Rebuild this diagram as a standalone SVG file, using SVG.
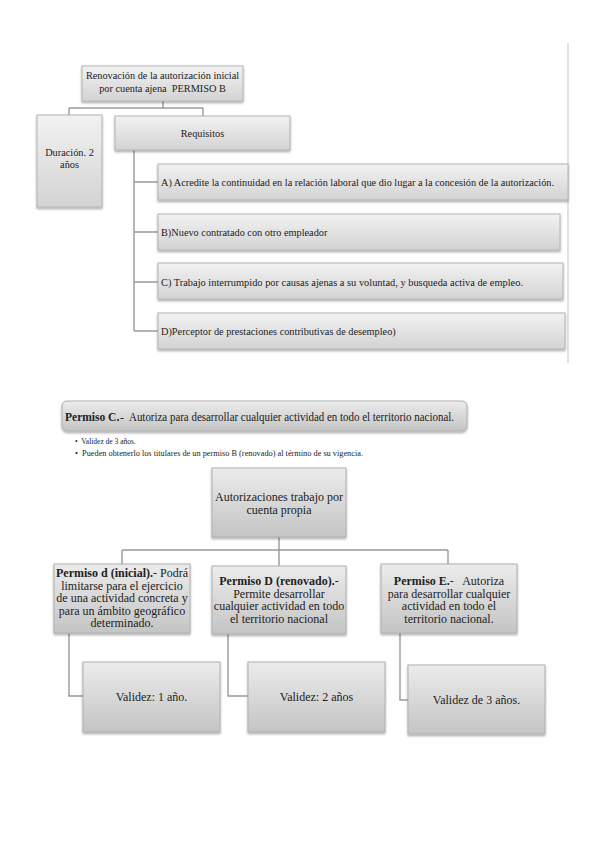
<svg xmlns="http://www.w3.org/2000/svg" width="599" height="848" viewBox="0 0 599 848">
<defs>
<linearGradient id="g1" x1="0" y1="0" x2="0" y2="1">
<stop offset="0" stop-color="#f2f2f2"/><stop offset="1" stop-color="#d3d3d3"/>
</linearGradient>
<linearGradient id="g2" x1="0" y1="0" x2="0" y2="1">
<stop offset="0" stop-color="#ececec"/><stop offset="1" stop-color="#c4c4c4"/>
</linearGradient>
<filter id="sh" x="-10%" y="-10%" width="125%" height="140%">
<feDropShadow dx="0" dy="1.5" stdDeviation="1" flood-color="#000" flood-opacity="0.35"/>
</filter>
</defs>
<style>
.b1{fill:url(#g1);stroke:#b4b4b4;stroke-width:1;filter:url(#sh)}
.b2{fill:url(#g2);stroke:#b0b0b0;stroke-width:1;filter:url(#sh)}
.ln{fill:none;stroke:#9a9a9a;stroke-width:1.4}
.t{font-family:"Liberation Serif","Times New Roman",serif;fill:#222}
.s1{font-size:10.3px}
.s2{font-size:12px}
.s3{font-size:12.5px}
.s4{font-size:7.5px}
.c{text-anchor:middle}
.bd{font-weight:bold}
</style>
<rect width="599" height="848" fill="#fff"/>

<g id="connectors">
<path class="ln" d="M163 101V108M69 108H203M69 108V115M203 108V116"/>
<path class="ln" d="M134 150V331M134 182H158M134 232H158M134 282H158M134 331H158"/>
<path class="ln" d="M279 537V550M122 550H448M122 550V564M279 550V566M448 550V564"/>
<path class="ln" d="M69 633V696H83M228 634V696H248M400 633V700H408"/>
<path d="M568 43V363" stroke="#cfcfcf" stroke-width="1.2"/>
</g>

<g id="permisoB">
<rect class="b1" x="82" y="66" width="161" height="35"/>
<text class="t s1 c" x="162.5" y="79">Renovación de la autorización inicial</text>
<text class="t s1 c" x="162.5" y="92" xml:space="preserve">por cuenta ajena  PERMISO B</text>
</g>
<g id="duracion">
<rect class="b1" x="37" y="115" width="65" height="92"/>
<text class="t s1 c" x="69.5" y="156">Duración. 2</text>
<text class="t s1 c" x="69.5" y="168">años</text>
</g>
<g id="requisitos">
<rect class="b1" x="115" y="116" width="175" height="34"/>
<text class="t s1 c" x="202.5" y="137">Requisitos</text>
</g>
<g id="reqA">
<rect class="b1" x="158" y="164" width="410" height="36"/>
<text class="t s1" x="161" y="185.5" textLength="393" lengthAdjust="spacingAndGlyphs">A) Acredite la continuidad en la relación laboral que dio lugar a la concesión de la autorización.</text>
</g>
<g id="reqB">
<rect class="b1" x="158" y="214" width="402" height="36"/>
<text class="t s1" x="161" y="235.5">B)Nuevo contratado con otro empleador</text>
</g>
<g id="reqC">
<rect class="b1" x="158" y="263" width="405" height="36"/>
<text class="t s1" x="161" y="285.5" textLength="362" lengthAdjust="spacingAndGlyphs">C) Trabajo interrumpido por causas ajenas a su voluntad, y busqueda activa de empleo.</text>
</g>
<g id="reqD">
<rect class="b1" x="158" y="313" width="407" height="36"/>
<text class="t s1" x="161" y="335">D)Perceptor de prestaciones contributivas de desempleo)</text>
</g>

<g id="permisoC">
<rect class="b2" x="62" y="401" width="405" height="30" rx="5"/>
<text class="t bd" x="65" y="420.5" font-size="11.5">Permiso C.</text>
<text class="t" x="120" y="420.5" font-size="11.5">-</text>
<text class="t s3" x="129" y="420.5" textLength="325" lengthAdjust="spacingAndGlyphs">Autoriza para desarrollar cualquier actividad en todo el territorio nacional.</text>
<text class="t s4" x="75" y="444">•&#160; Validez de 3 años.</text>
<text class="t s4" x="75" y="456" textLength="288" lengthAdjust="spacingAndGlyphs">•&#160; Pueden obtenerlo los titulares de un permiso B (renovado) al término de su vigencia.</text>
</g>

<g id="propia">
<rect class="b2" x="212" y="468" width="134" height="69"/>
<text class="t s2 c" x="279" y="501">Autorizaciones trabajo por</text>
<text class="t s2 c" x="279" y="514">cuenta propia</text>
</g>
<g id="permisod">
<rect class="b2" x="54" y="564" width="136" height="69"/>
<text class="t s2 c" x="122" y="577"><tspan class="bd">Permiso d (inicial).</tspan>- Podrá</text>
<text class="t s2 c" x="122" y="589.5">limitarse para el ejercicio</text>
<text class="t s2 c" x="122" y="602">de una actividad concreta y</text>
<text class="t s2 c" x="122" y="614.5">para un ámbito geográfico</text>
<text class="t s2 c" x="122" y="627">determinado.</text>
</g>
<g id="permisoD">
<rect class="b2" x="212" y="566" width="134" height="68"/>
<text class="t s2 c" x="279" y="585"><tspan class="bd">Permiso D (renovado).</tspan>-</text>
<text class="t s2 c" x="279" y="597.5">Permite desarrollar</text>
<text class="t s2 c" x="279" y="610">cualquier actividad en todo</text>
<text class="t s2 c" x="279" y="622.5">el territorio nacional</text>
</g>
<g id="permisoE">
<rect class="b2" x="381" y="564" width="136" height="69"/>
<text class="t s2 c" x="449" y="585"><tspan class="bd">Permiso E.</tspan>-&#160;&#160; Autoriza</text>
<text class="t s2 c" x="449" y="597.5">para desarrollar cualquier</text>
<text class="t s2 c" x="449" y="610">actividad en todo el</text>
<text class="t s2 c" x="449" y="622.5">territorio nacional.</text>
</g>
<g id="validez1">
<rect class="b2" x="83" y="662" width="137" height="70"/>
<text class="t s2 c" x="151.5" y="701">Validez: 1 año.</text>
</g>
<g id="validez2">
<rect class="b2" x="248" y="662" width="137" height="70"/>
<text class="t s2 c" x="316.5" y="701">Validez: 2 años</text>
</g>
<g id="validez3">
<rect class="b2" x="408" y="665" width="137" height="69"/>
<text class="t s2 c" x="476.5" y="704">Validez de 3 años.</text>
</g>
</svg>
